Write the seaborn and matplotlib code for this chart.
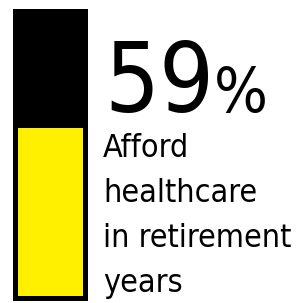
import matplotlib
matplotlib.use("Agg")
import matplotlib.pyplot as plt
from matplotlib import font_manager as fm
import seaborn as sns
import pandas as pd

# data
categories = ["Afford healthcare in retirement years"]
share = [59]
total = [100]
label_lines = ["Afford", "healthcare", "in retirement", "years"]

sns.set_style("white")

# pick a narrow sans if one is installed, else plain DejaVu Sans
narrow = [f for f in fm.fontManager.ttflist
          if f.style == "normal" and f.weight in (400, "normal", "regular")
          and ("Condensed" in f.name or "Narrow" in f.name
               or f.stretch in ("condensed", "semi-condensed"))]
if narrow:
    fp = fm.FontProperties(fname=narrow[0].fname)
else:
    fp = fm.FontProperties(family="DejaVu Sans")

df = pd.DataFrame({"cat": categories, "share": share, "total": total})

W, H = 298, 303
fig = plt.figure(figsize=(W / 100, H / 100), dpi=100)
ax = fig.add_axes([14.5 / W, 5.5 / H, 70 / W, 287 / H])

# black full-height bar, yellow share drawn over it
sns.barplot(data=df, x="cat", y="total", color="black", width=1.0,
            linewidth=0, saturation=1, ax=ax)
sns.barplot(data=df, x="cat", y="share", color="#fff000", width=1.0,
            linewidth=0, saturation=1, ax=ax)
ax.set_ylim(0, 100)
ax.set_xlim(-0.5, 0.5)
ax.axis("off")
frame = plt.Rectangle((-0.5, 0), 1, 100, fill=False, edgecolor="black",
                      linewidth=3.6, transform=ax.transData, clip_on=False)
ax.add_patch(frame)

renderer = fig.canvas.get_renderer()


def fit_size(s, width_px, size=30):
    t = fig.text(0, 0, s, fontproperties=fp, fontsize=size)
    w = t.get_window_extent(renderer).width
    t.remove()
    return size * width_px / w


def put(x, y, s, size):
    fig.text(x / W, 1 - y / H, s, fontproperties=fp, fontsize=size,
             ha="left", va="baseline", color="black")


put(104, 112, f"{share[0]}", fit_size(f"{share[0]}", 110, 80))
put(214, 112, "%", fit_size("%", 54, 50))

label_size = fit_size("in retirement", 188)
for i, line in enumerate(label_lines):
    put(103, 157 + i * 45, line, label_size)

fig.savefig("out.png", dpi=100, facecolor="white")
